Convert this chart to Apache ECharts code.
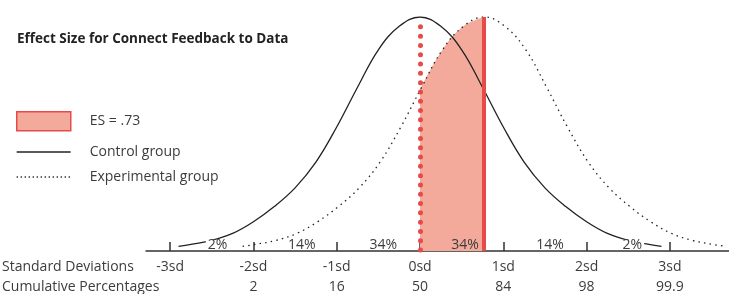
<!DOCTYPE html>
<html>
<head>
<meta charset="utf-8">
<script src="https://cdn.jsdelivr.net/npm/echarts@6/dist/echarts.min.js"></script>
<style>
  html, body { margin: 0; padding: 0; background: #fff; }
  #chart { width: 729px; height: 294px; }
</style>
</head>
<body>
<div id="chart"></div>
<script>
// standard deviation ticks and the two label rows under them
var sdTicks = [-3, -2, -1, 0, 1, 2, 3];
var sdLabels = ['-3sd', '-2sd', '-1sd', '0sd', '1sd', '2sd', '3sd'];
var cumulative = ['', '2', '16', '50', '84', '98', '99.9'];

// curve heights (peak = 1)
var controlX = [-2.9, -2.75, -2.5, -2.25, -2, -1.75, -1.5, -1.25, -1, -0.75, -0.5, -0.25, 0,
  0.25, 0.5, 0.75, 1, 1.25, 1.5, 1.75, 2, 2.25, 2.5, 2.75, 2.9];
var controlY = [0.02, 0.028, 0.045, 0.075, 0.125, 0.19, 0.27, 0.38, 0.53, 0.70, 0.86, 0.96, 1,
  0.96, 0.86, 0.70, 0.53, 0.38, 0.27, 0.19, 0.125, 0.075, 0.045, 0.028, 0.02];
var experimentalX = [-2.13, -1.98, -1.73, -1.48, -1.23, -0.98, -0.73, -0.48, -0.23, 0.02, 0.27, 0.52, 0.77,
  1.02, 1.27, 1.52, 1.77, 2.02, 2.27, 2.52, 2.77, 3.02, 3.27, 3.52, 3.67];
var experimentalY = [0.02, 0.028, 0.045, 0.075, 0.125, 0.19, 0.27, 0.38, 0.53, 0.70, 0.86, 0.96, 1,
  0.96, 0.86, 0.70, 0.53, 0.38, 0.27, 0.19, 0.125, 0.075, 0.045, 0.028, 0.02];

// shaded effect size area between the two means
var shadeX = [0, 0.27, 0.52, 0.77];
var shadeY = [0.69, 0.86, 0.96, 1];
var esMean = 0.77;

// band percentages along the axis
var bandX = [-2.43, -1.42, -0.44, 0.54, 1.56, 2.55];
var bandLabels = ['2%', '14%', '34%', '34%', '14%', '2%'];

var font = 'Open Sans';
var textColor = '#3c3c3c';
var red = '#e84a4a';
var salmon = '#f3aa9b';

function pairs(xs, ys) {
  return xs.map(function (x, i) { return [x, ys[i]]; });
}

var chart = echarts.init(document.getElementById('chart'));

var legendText = {
  fontFamily: font, fontSize: 14, color: textColor,
  rich: { t: { fontFamily: font, fontSize: 14, color: textColor, padding: [0, 0, 0, 14] } }
};

var option = {
  animation: false,
  title: {
    text: 'Effect Size for Connect Feedback to Data',
    left: 12,
    top: 27,
    textStyle: { fontFamily: font, fontSize: 13.5, fontWeight: 'bold', color: '#222' }
  },
  legend: [
    {
      data: [{ name: 'ES = .73', icon: 'rect',
        itemStyle: { color: salmon, borderColor: red, borderWidth: 1.5 } }],
      left: 16, top: 111, padding: 0,
      itemWidth: 54, itemHeight: 19,
      formatter: '{t|{name}}',
      textStyle: legendText
    },
    {
      data: ['Control group'],
      left: 16, top: 145, padding: 0,
      itemWidth: 54, itemHeight: 14,
      itemStyle: { opacity: 0 },
      lineStyle: { width: 1.3, color: '#222' },
      formatter: '{t|{name}}',
      textStyle: legendText
    },
    {
      data: ['Experimental group'],
      left: 16, top: 170, padding: 0,
      itemWidth: 54, itemHeight: 14,
      itemStyle: { opacity: 0 },
      lineStyle: { width: 1.3, color: '#222', type: [1.3, 2.7] },
      formatter: '{t|{name}}',
      textStyle: legendText
    }
  ],
  grid: { left: 146, right: 0, top: 17, bottom: 40 },
  xAxis: {
    type: 'value',
    min: -3.29,
    max: 3.71,
    splitLine: { show: false },
    axisLine: { lineStyle: { color: '#333', width: 1.5 } },
    axisTick: { show: true, inside: true, length: 9, customValues: sdTicks,
      lineStyle: { color: '#333', width: 1.5 } },
    axisLabel: {
      customValues: sdTicks,
      margin: 6,
      formatter: function (v) {
        var i = sdTicks.indexOf(v);
        return '{a|' + sdLabels[i] + '}\n{b|' + cumulative[i] + '}';
      },
      rich: {
        a: { fontFamily: font, fontSize: 14, color: textColor, lineHeight: 20 },
        b: { fontFamily: font, fontSize: 14, color: textColor, lineHeight: 20 }
      }
    }
  },
  yAxis: { type: 'value', min: 0, max: 1, show: false },
  series: [
    {
      name: 'ES = .73',
      type: 'line',
      data: pairs(shadeX, shadeY),
      smooth: 0.4,
      symbol: 'none',
      lineStyle: { width: 0 },
      areaStyle: { color: salmon, opacity: 1 },
      z: 1,
      markLine: {
        silent: true,
        symbol: 'none',
        label: { show: false },
        data: [
          [{ coord: [0, 0.958], lineStyle: { color: red, width: 5, type: [0, 9.3], cap: 'round' } },
           { coord: [0, 0] }],
          [{ coord: [esMean, 1], lineStyle: { color: red, width: 4, type: 'solid' } },
           { coord: [esMean, 0] }]
        ]
      }
    },
    {
      name: 'Control group',
      type: 'line',
      data: pairs(controlX, controlY),
      smooth: 0.4,
      symbol: 'none',
      lineStyle: { color: '#222', width: 1.3 },
      itemStyle: { color: '#222' },
      z: 3
    },
    {
      name: 'Experimental group',
      type: 'line',
      data: pairs(experimentalX, experimentalY),
      smooth: 0.4,
      symbol: 'none',
      lineStyle: { color: '#222', width: 1.3, type: [1.5, 4.2] },
      itemStyle: { color: '#222' },
      z: 3
    },
    {
      name: 'bands',
      type: 'scatter',
      symbolSize: 0,
      itemStyle: { opacity: 1, color: '#fff' },
      data: bandX.map(function (x, i) {
        return { value: [x, 0.026],
          label: { backgroundColor: (i === 3 ? 'transparent' : '#fff') } };
      }),
      label: {
        show: true,
        position: 'inside',
        formatter: function (p) { return bandLabels[p.dataIndex]; },
        fontFamily: font, fontSize: 14, color: textColor,
        textBorderWidth: 0, opacity: 1,
        lineHeight: 10, padding: [0, 2, 0, 2]
      },
      emphasis: { disabled: true },
      z: 10
    }
  ],
  graphic: [
    { type: 'text', left: 2, top: 260,
      style: { text: 'Standard Deviations', fontFamily: font, fontSize: 14, fill: textColor } },
    { type: 'text', left: 2, top: 280,
      style: { text: 'Cumulative Percentages', fontFamily: font, fontSize: 14, fill: textColor } }
  ]
};

chart.setOption(option);
window.addEventListener('resize', chart.resize);
</script>
</body>
</html>
